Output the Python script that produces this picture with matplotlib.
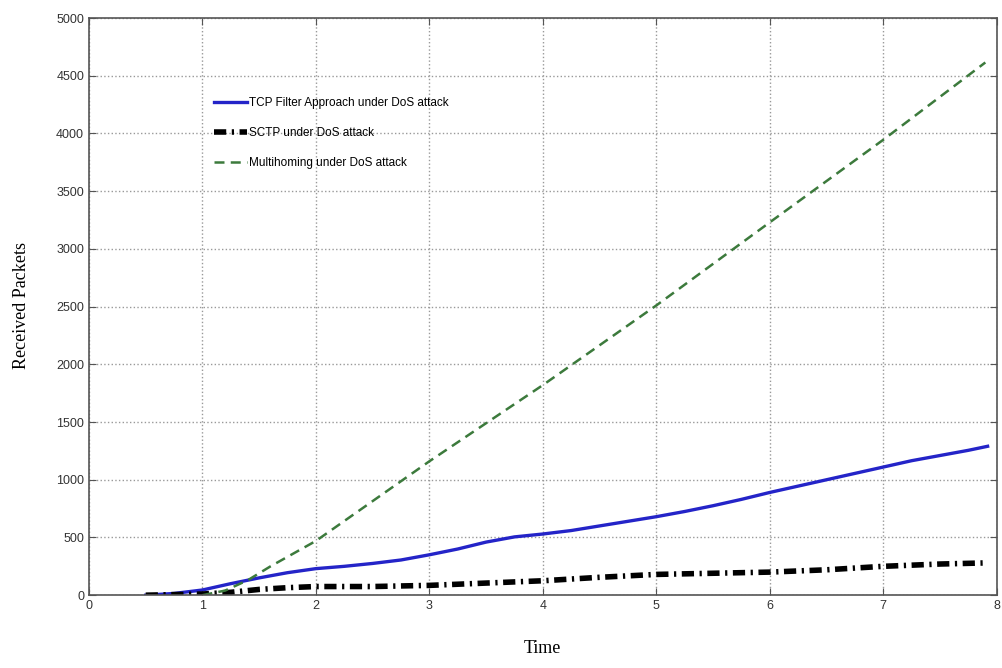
import matplotlib
matplotlib.use("Agg")
import matplotlib.pyplot as plt

# Data
tcp_x = [0.5, 0.75, 1.0, 1.25, 1.5, 1.75, 2.0, 2.25, 2.5, 2.75, 3.0, 3.25, 3.5, 3.75, 4.0, 4.25, 4.5, 4.75, 5.0, 5.25, 5.5, 5.75, 6.0, 6.25, 6.5, 6.75, 7.0, 7.25, 7.5, 7.75, 7.92]
tcp_y = [0, 15, 45, 100, 150, 195, 230, 250, 275, 305, 350, 400, 460, 505, 530, 560, 600, 640, 680, 725, 775, 830, 890, 945, 1000, 1055, 1110, 1165, 1210, 1255, 1290]

sctp_x = [0.5, 0.75, 1.0, 1.25, 1.5, 1.75, 2.0, 2.5, 3.0, 3.5, 4.0, 4.5, 5.0, 5.5, 6.0, 6.5, 7.0, 7.5, 7.92]
sctp_y = [0, 5, 10, 25, 50, 65, 75, 75, 85, 105, 125, 155, 180, 190, 200, 220, 250, 270, 280]

multi_x = [1.0, 1.2, 1.4, 1.6, 2.0, 3.0, 4.0, 5.0, 6.0, 7.0, 7.9]
multi_y = [0, 40, 130, 250, 470, 1160, 1820, 2510, 3230, 3945, 4615]

labels = ["TCP Filter Approach under DoS attack",
          "SCTP under DoS attack",
          "Multihoming under DoS attack"]
xticks = [0, 1, 2, 3, 4, 5, 6, 7, 8]
yticks = [0, 500, 1000, 1500, 2000, 2500, 3000, 3500, 4000, 4500, 5000]

narrow = ['Liberation Sans Narrow', 'Liberation Sans', 'DejaVu Sans']
serif = ['Liberation Serif', 'DejaVu Serif']

fig = plt.figure(figsize=(10.03, 6.68), dpi=100)
ax = fig.add_axes([0.0887, 0.109, 0.905, 0.864])

ax.plot(tcp_x, tcp_y, color='#2424c8', lw=2.4, label=labels[0])
ax.plot(sctp_x, sctp_y, color='black', lw=4.0, linestyle=(0, (2.2, 1.0, 0.4, 1.0)), label=labels[1])
ax.plot(multi_x, multi_y, color='#3c7a3c', lw=1.8, linestyle=(0, (4, 2.5)), label=labels[2])

ax.set_xlim(0, 8)
ax.set_ylim(0, 5000)
ax.set_xticks(xticks)
ax.set_yticks(yticks)
ax.set_xticklabels([str(t) for t in xticks], family=narrow, fontsize=9, color='#333333')
ax.set_yticklabels([str(t) for t in yticks], family=narrow, fontsize=9, color='#333333')
ax.tick_params(direction='in', top=True, right=True, length=5, color='#555555')
ax.grid(True, linestyle=':', color='#999999', lw=1.0)
for s in ax.spines.values():
    s.set_color('#555555')
    s.set_linewidth(1.2)

ax.set_xlabel("Time", family=serif, fontsize=13, labelpad=20)
fig.text(0.021, 0.543, "Received Packets", family=serif, fontsize=13,
         rotation=90, ha='center', va='center')

leg = ax.legend(loc='upper left', bbox_to_anchor=(0.133, 0.872), frameon=False,
                prop={'family': narrow, 'size': 8.5}, handlelength=2.8,
                handletextpad=0.1, labelspacing=1.55, borderaxespad=0)

fig.savefig("out.png", dpi=100)
